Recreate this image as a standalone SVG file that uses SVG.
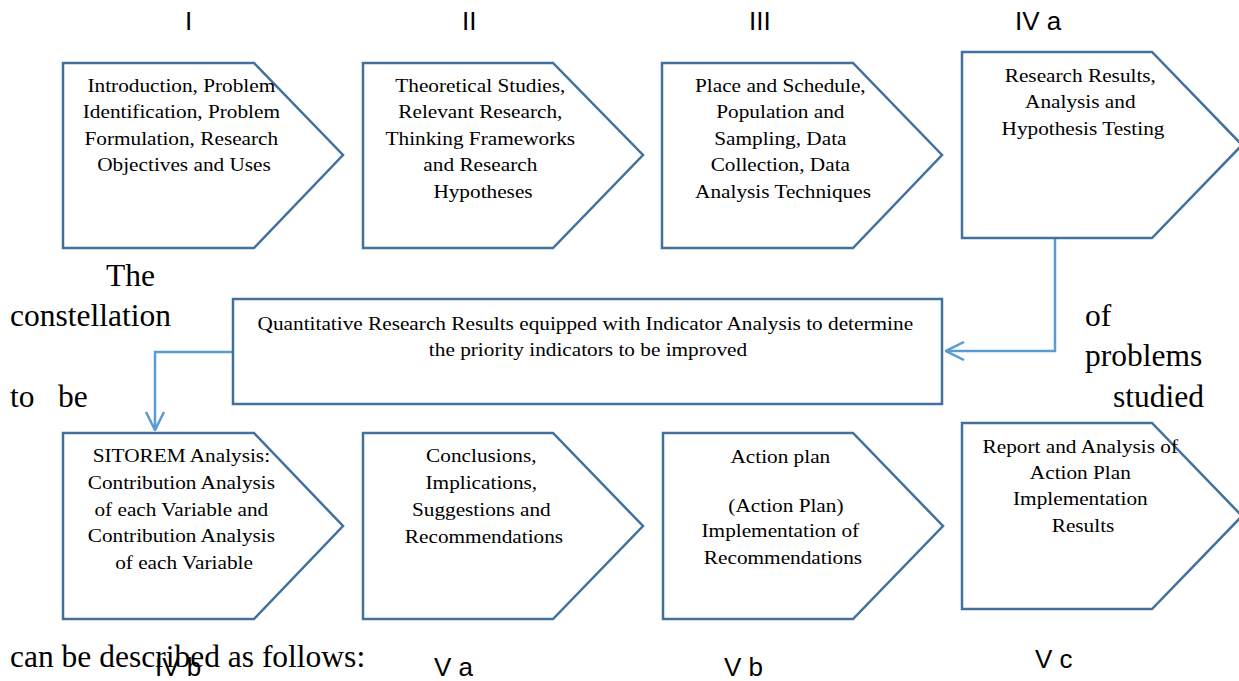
<svg xmlns="http://www.w3.org/2000/svg" width="1239" height="681" viewBox="0 0 1239 681">
<style>
.shape{fill:#fff;stroke:#41719C;stroke-width:2.5;stroke-linejoin:miter}
.t{font-family:"Liberation Serif","Times New Roman",serif;font-size:19px;fill:#000;text-anchor:middle}
.side{font-family:"Liberation Serif","Times New Roman",serif;font-size:31.5px;fill:#000}
.num{font-family:"Liberation Sans",Arial,sans-serif;font-size:26px;fill:#000}
.conn{fill:none;stroke:#5B9BD5;stroke-width:2.5}
</style>
<defs>
<marker id="arr" viewBox="0 0 20 20" refX="19" refY="10" markerWidth="20" markerHeight="20" markerUnits="userSpaceOnUse" orient="auto">
<path d="M1,1 L19,10 L1,19" fill="none" stroke="#5B9BD5" stroke-width="2.5"/>
</marker>
</defs>
<rect width="1239" height="681" fill="#fff"/>

<g id="labels">
<text class="num" x="185" y="30">I</text>
<text class="num" x="462" y="30">II</text>
<text class="num" x="749" y="30">III</text>
<text class="num" x="1015" y="30">IV a</text>
<text class="num" x="155" y="676">IV b</text>
<text class="num" x="434" y="676">V a</text>
<text class="num" x="724" y="676">V b</text>
<text class="num" x="1035" y="668">V c</text>
</g>

<g id="sidetext">
<text class="side" x="106" y="286">The</text>
<text class="side" x="10" y="326">constellation</text>
<text class="side" x="10" y="407">to</text>
<text class="side" x="58" y="407">be</text>
<text class="side" x="1085" y="326">of</text>
<text class="side" x="1085" y="366">problems</text>
<text class="side" x="1113" y="407">studied</text>
<text class="side" x="10" y="667">can be described as follows:</text>
</g>

<g id="connectors">
<path class="conn" d="M1055,238 V351 H946" marker-end="url(#arr)"/>
<path class="conn" d="M233,352 H155 V430" marker-end="url(#arr)"/>
</g>

<g id="n1">
<polygon class="shape" points="63,63 254,63 343,155 254,248 63,248"/>
<g transform="translate(184 0) scale(1.12 1)"><text class="t">
<tspan x="0" y="92">Introduction, Problem</tspan>
<tspan x="0" y="118">Identification, Problem</tspan>
<tspan x="0" y="145">Formulation, Research</tspan>
<tspan x="0" y="171">Objectives and Uses</tspan>
</text></g>
</g>

<g id="n2">
<polygon class="shape" points="363,63 553,63 643,155 553,248 363,248"/>
<g transform="translate(483 0) scale(1.12 1)"><text class="t">
<tspan x="0" y="92">Theoretical Studies,</tspan>
<tspan x="0" y="118">Relevant Research,</tspan>
<tspan x="0" y="145">Thinking Frameworks</tspan>
<tspan x="0" y="171">and Research</tspan>
<tspan x="0" y="198">Hypotheses</tspan>
</text></g>
</g>

<g id="n3">
<polygon class="shape" points="662,63 853,63 942,155 853,248 662,248"/>
<g transform="translate(783 0) scale(1.12 1)"><text class="t">
<tspan x="0" y="92">Place and Schedule,</tspan>
<tspan x="0" y="118">Population and</tspan>
<tspan x="0" y="145">Sampling, Data</tspan>
<tspan x="0" y="171">Collection, Data</tspan>
<tspan x="0" y="198">Analysis Techniques</tspan>
</text></g>
</g>

<g id="n4">
<polygon class="shape" points="962,52 1152,52 1242,145 1152,238 962,238"/>
<g transform="translate(1083 0) scale(1.12 1)"><text class="t">
<tspan x="0" y="82">Research Results,</tspan>
<tspan x="0" y="108">Analysis and</tspan>
<tspan x="0" y="135">Hypothesis Testing</tspan>
</text></g>
</g>

<g id="nmid">
<rect class="shape" x="233" y="299" width="709" height="105"/>
<g transform="translate(588 0) scale(1.12 1)"><text class="t">
<tspan x="0" y="330">Quantitative Research Results equipped with Indicator Analysis to determine</tspan>
<tspan x="0" y="356">the priority indicators to be improved</tspan>
</text></g>
</g>

<g id="n5">
<polygon class="shape" points="63,433 254,433 343,526 254,619 63,619"/>
<g transform="translate(184 0) scale(1.12 1)"><text class="t">
<tspan x="0" y="462">SITOREM Analysis:</tspan>
<tspan x="0" y="489">Contribution Analysis</tspan>
<tspan x="0" y="516">of each Variable and</tspan>
<tspan x="0" y="542">Contribution Analysis</tspan>
<tspan x="0" y="569">of each Variable</tspan>
</text></g>
</g>

<g id="n6">
<polygon class="shape" points="363,433 553,433 643,526 553,619 363,619"/>
<g transform="translate(484 0) scale(1.12 1)"><text class="t">
<tspan x="0" y="462">Conclusions,</tspan>
<tspan x="0" y="489">Implications,</tspan>
<tspan x="0" y="516">Suggestions and</tspan>
<tspan x="0" y="543">Recommendations</tspan>
</text></g>
</g>

<g id="n7">
<polygon class="shape" points="663,433 853,433 943,526 853,619 663,619"/>
<g transform="translate(783 0) scale(1.12 1)"><text class="t">
<tspan x="0" y="463">Action plan</tspan>
<tspan x="5" y="512">(Action Plan)</tspan>
<tspan x="0" y="537">Implementation of</tspan>
<tspan x="0" y="564">Recommendations</tspan>
</text></g>
</g>

<g id="n8">
<polygon class="shape" points="962,423 1152,423 1242,516 1152,609 962,609"/>
<g transform="translate(1083 0) scale(1.12 1)"><text class="t">
<tspan x="0" y="453">Report and Analysis of</tspan>
<tspan x="0" y="479">Action Plan</tspan>
<tspan x="0" y="505">Implementation</tspan>
<tspan x="0" y="532">Results</tspan>
</text></g>
</g>
</svg>
